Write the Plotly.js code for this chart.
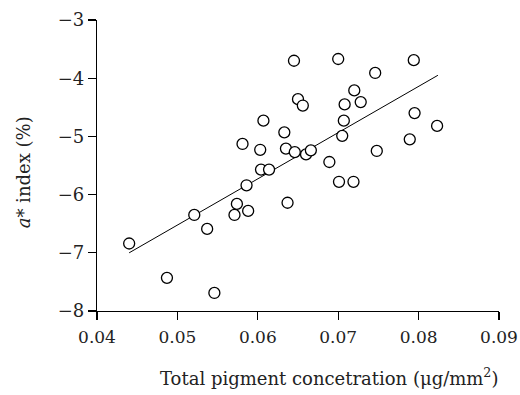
<!DOCTYPE html>
<html>
<head>
<meta charset="utf-8">
<script src="https://cdn.plot.ly/plotly-3.0.1.min.js"></script>
<style>
html,body{margin:0;padding:0;background:#fff;}
#chart{width:520px;height:395px;}
</style>
</head>
<body>
<div id="chart"></div>
<script>
// Total pigment concentration (µg/mm²)
const pigment = [0.0440, 0.0487, 0.0546, 0.0521, 0.0537, 0.0574, 0.0571, 0.0588, 0.0586, 0.0581,
                 0.0603, 0.0604, 0.0614, 0.0607, 0.0633, 0.0635, 0.0637, 0.0646, 0.0645, 0.0650,
                 0.0656, 0.0660, 0.0666, 0.0689, 0.0700, 0.0701, 0.0705, 0.0707, 0.0708, 0.0719,
                 0.0720, 0.0728, 0.0746, 0.0748, 0.0789, 0.0794, 0.0795, 0.0823];
// a* index (%)
const aIndex = [-6.84, -7.43, -7.69, -6.35, -6.59, -6.16, -6.35, -6.28, -5.84, -5.13,
                -5.23, -5.57, -5.57, -4.73, -4.93, -5.21, -6.14, -5.27, -3.70, -4.36,
                -4.47, -5.31, -5.24, -5.44, -3.67, -5.78, -4.99, -4.73, -4.45, -5.78,
                -4.21, -4.41, -3.91, -5.25, -5.05, -3.69, -4.60, -4.82];
// regression line end points
const fitX = [0.0440, 0.0824];
const fitY = [-7.00, -3.95];

const xTicks = [0.04, 0.05, 0.06, 0.07, 0.08, 0.09];
const xTickText = ['0.04', '0.05', '0.06', '0.07', '0.08', '0.09'];
const yTicks = [-8, -7, -6, -5, -4, -3];
const yTickText = ['\u22128', '\u22127', '\u22126', '\u22125', '\u22124', '\u22123'];
const xTitle = 'Total pigment concetration (\u03bcg/mm<sup>2</sup>)';
const yTitle = '<i>a</i>* index (%)';

const serif = '"DejaVu Serif", "Liberation Serif", serif';

const traces = [
  {
    x: fitX, y: fitY, type: 'scatter', mode: 'lines',
    line: {color: '#000', width: 1}, hoverinfo: 'skip', showlegend: false
  },
  {
    x: pigment, y: aIndex, type: 'scatter', mode: 'markers',
    marker: {symbol: 'circle', size: 11, color: '#fff', line: {color: '#000', width: 1.3}},
    showlegend: false
  }
];

const layout = {
  width: 520, height: 395,
  margin: {l: 97, r: 21, t: 20, b: 84},
  paper_bgcolor: '#fff', plot_bgcolor: '#fff',
  font: {family: serif, color: '#222', size: 18},
  showlegend: false,
  xaxis: {
    range: [0.04, 0.09], tickmode: 'array', tickvals: xTicks, ticktext: xTickText,
    showgrid: false, zeroline: false, showline: true, linecolor: '#000', linewidth: 1.2,
    ticks: 'outside', ticklen: 8, tickwidth: 1.2, tickcolor: '#000',
    ticklabeloverflow: 'allow', ticklabelstandoff: 2,
    tickfont: {family: serif, size: 17, color: '#222'}
  },
  yaxis: {
    range: [-8, -3], tickmode: 'array', tickvals: yTicks, ticktext: yTickText,
    showgrid: false, zeroline: false, showline: true, linecolor: '#000', linewidth: 1.2,
    ticks: 'outside', ticklen: 8, tickwidth: 1.2, tickcolor: '#000',
    ticklabeloverflow: 'allow',
    tickfont: {family: serif, size: 18, color: '#222'}
  },
  annotations: [
    {
      text: xTitle, xref: 'paper', yref: 'paper', x: 0.578, y: -0.227,
      xanchor: 'center', yanchor: 'middle', showarrow: false,
      font: {family: serif, size: 18, color: '#222'}
    },
    {
      text: yTitle, xref: 'paper', yref: 'paper', x: -0.183, y: 0.478,
      xanchor: 'center', yanchor: 'middle', showarrow: false, textangle: -90,
      font: {family: serif, size: 18, color: '#222'}
    }
  ]
};

Plotly.newPlot('chart', traces, layout, {displayModeBar: false, staticPlot: true});
</script>
</body>
</html>
